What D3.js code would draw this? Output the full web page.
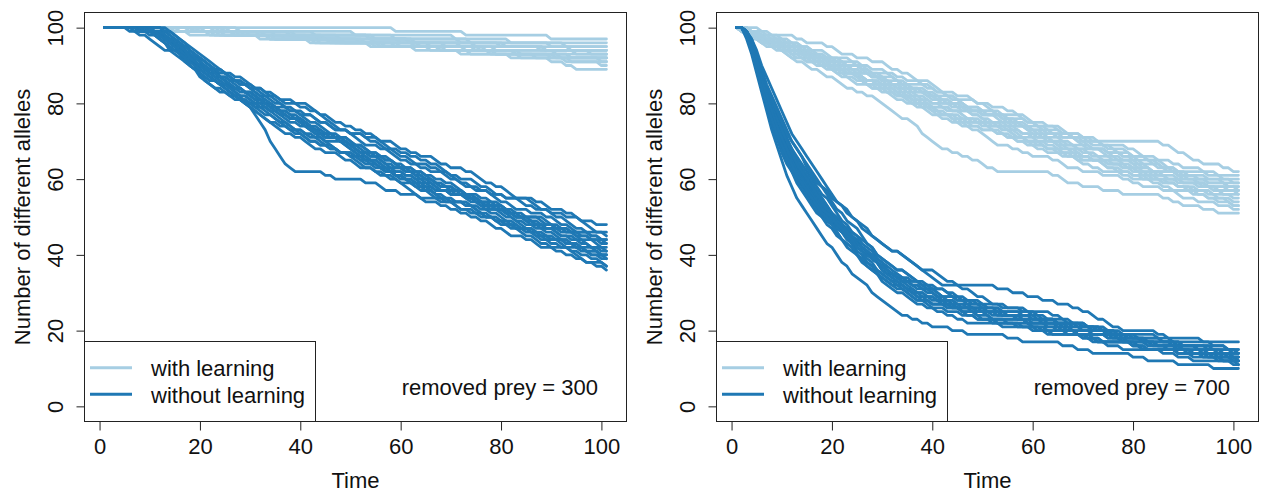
<!DOCTYPE html>
<html>
<head>
<meta charset="utf-8">
<script src="https://cdn.jsdelivr.net/npm/d3@7"></script>
<style>
  html, body { margin: 0; padding: 0; background: #fff; }
  svg text { font-family: "Liberation Sans", Arial, sans-serif; font-size: 22px; fill: #111; }
</style>
</head>
<body>
<svg id="chart" width="1270" height="494"></svg>
<script>
// Each run starts with 100 alleles at time 1. A run is written as the number of
// alleles lost at each of the 100 time steps (t=1->2 ... t=100->101), in groups of 5.
const startAlleles = 100;
const firstTime = 1;
const xTicks = [0, 20, 40, 60, 80, 100];
const yTicks = [0, 20, 40, 60, 80, 100];
const legendLabels = ["with learning", "without learning"];
const preyLabels = ["removed prey = 300", "removed prey = 700"];

// removed prey = 300, with learning
const lossWith300 = [
  "00000 00000 00000 00000 00000 00000 00000 00000 00000 00000 00000 00100 00000 00000 01000 00000 00000 00010 00000 00000",
  "00000 00000 00000 00000 00010 00000 00000 00000 01000 00000 00000 00000 00000 00001 00000 00000 10000 00000 00000 00000",
  "00000 00000 00000 00100 00000 00000 10000 00000 00000 00000 00010 00000 00000 00000 00100 00000 00000 00000 01000 00000",
  "00000 00000 00000 00000 00000 01000 00000 00000 00000 00001 00000 00100 00000 00000 10000 00000 00000 00010 00000 00000",
  "00000 00000 00010 00000 00000 10000 00000 00000 00100 00000 00000 00000 01000 00000 00000 00001 00000 00000 00100 00000",
  "00000 00000 00000 00000 01000 00000 00010 00000 00000 00000 00100 00000 10000 00000 00000 00010 00000 01000 00000 00000",
  "00000 00000 00000 00001 00000 00000 00000 00100 00000 01000 00000 00010 00000 00000 10000 00000 00000 00100 00000 01000",
  "00000 00000 10000 00000 00100 00000 00000 00010 00000 00000 01000 00000 00000 00100 00000 10000 00000 00001 00000 00000",
  "00000 00000 00000 00000 00001 00100 00000 00000 10000 00000 00010 00000 01000 00000 00000 00100 00000 00000 00010 00000",
  "00000 00000 00000 01000 00000 00010 00000 10000 00000 00100 00000 00000 00001 00000 01000 00000 00100 00000 10000 00000",
  "00000 00000 00100 00000 10000 00000 00010 00000 00000 01000 00000 00100 00000 00000 00001 00000 01000 00000 00100 00000",
  "00000 00000 00000 00010 00000 01000 00000 00100 00000 10000 00000 00010 00000 01000 00000 00100 00000 00001 00000 00000",
  "00000 00000 00000 00000 00100 00000 01000 00000 00010 00000 10000 00000 00100 00000 00010 00000 01000 00000 00100 00010",
  "00000 00000 00001 01000 00000 00000 00100 00000 10000 00000 00010 00000 00000 01000 00000 00100 00000 10000 00100 00000",
  "00000 00000 00000 00100 00000 10000 00010 00000 01000 00000 00100 00000 00001 00000 10000 00000 00100 00000 01000 00010",
  "00000 00000 00000 00010 01000 00000 00100 00000 00001 00000 00000 10000 00000 00100 00000 01000 00000 00010 00000 00000",
  "00000 00000 00000 00000 00010 00000 00000 01000 00000 00000 00100 00000 10000 00000 00010 00000 00000 00100 00000 00000",
  "00000 00000 01000 00000 00010 00000 10000 00000 00100 00000 00001 00000 01000 00000 00100 00000 10000 00010 01010 00000"
];

// removed prey = 300, without learning
const lossWithout300 = [
  "00001 01011 11000 01101 11211 21212 22322 21100 00010 10000 01001 10010 00110 01010 10101 01101 10010 11001 01010 10001",
  "00000 00010 11011 12111 10111 10101 11011 01101 11010 10011 01101 10110 01010 10101 11001 01011 10010 01101 10001 01010",
  "00000 01000 11111 11211 11101 01011 10111 11010 11110 00111 10101 11001 01101 10010 01011 00101 11010 01001 10100 00110",
  "00000 00000 00111 12111 11011 10101 01011 10010 10111 11010 01101 10110 11001 01011 10101 01110 11001 00101 10110 01010",
  "00000 00001 01111 12121 11111 11010 01101 01001 10110 01011 11101 10101 01110 11001 00110 10010 01101 10100 01011 11010",
  "00000 00011 11111 21111 10111 11101 11011 01101 10110 11001 01011 10101 01010 10010 00101 01001 11000 00110 10100 01010",
  "00000 00100 11111 11111 11110 10101 11011 01011 11101 01111 11011 10110 01101 11010 00111 10010 01101 10100 11001 01010",
  "00000 00000 01111 11111 11011 10110 01101 00100 11101 10101 01011 11010 10101 01110 10011 01101 00110 10010 01001 00100",
  "00000 00010 11111 21121 10101 11011 10111 11101 01011 11010 10101 01101 11001 10110 01001 01011 10100 11010 00101 10010",
  "00000 01000 00111 11121 11101 01011 10110 11010 01101 10011 11001 01110 10101 00110 11010 01001 00000 10110 01011 11100",
  "00000 00000 01011 11111 11110 10111 11011 10101 01101 10010 01001 00110 10100 11010 01011 10101 11001 11011 01110 10001",
  "00000 00001 11111 12111 11111 11011 01111 11101 10101 01011 11010 10110 01101 11001 10101 00110 10010 01010 00101 11000",
  "00000 10000 01111 11112 11011 10111 01101 11010 11110 01011 10101 11001 01010 10110 01101 11001 01011 10101 11010 00111",
  "00000 01010 11111 12112 11101 01111 11111 10101 11010 01101 10011 01011 11100 00101 10010 01101 01001 11010 10101 01011",
  "00000 00100 10111 11211 11111 11011 10101 01011 11010 00111 10010 01101 10110 11001 01011 10101 01010 10001 00110 01001",
  "00000 00010 01101 21111 10101 11011 11110 01011 10111 11010 01101 10110 01011 11001 10101 00101 11010 01101 10011 01001",
  "00000 00101 11211 11121 11011 10111 11101 01011 10101 01001 11010 01101 10110 11001 01011 10101 01110 11010 00111 10101",
  "00000 01000 11011 12111 01101 11101 10111 11011 10110 01011 11101 10101 01001 11010 01101 10011 01110 10101 01010 10010"
];

// removed prey = 700, with learning
const lossWith700 = [
  "00001 10000 01010 00101 10010 01001 10101 11011 01010 00100 10010 11101 01001 00010 10000 00000 00001 01101 10100 01010",
  "00110 10010 01001 10100 00101 11000 01010 00011 10010 01101 10100 00110 01001 10010 01100 00101 10010 01010 00100 10000",
  "01011 10010 00101 01010 10001 01101 10010 01100 00101 10010 01010 10100 00011 01010 10001 00110 01001 10100 00010 01000",
  "01001 10010 01101 10110 00101 01010 11010 00110 10001 01010 00101 10100 01001 00110 10010 01010 00011 10100 01000 00010",
  "10101 01011 00110 10100 01101 10010 01001 11010 00101 01010 10010 00110 01001 10100 00010 01001 10010 00101 01010 00100",
  "00101 11010 01011 10101 01001 10010 01101 00110 10100 01011 10010 01010 00101 10001 01100 00011 10010 00100 01010 10000",
  "01101 10010 00110 01010 10101 01011 11010 10110 01001 10100 00101 11001 01010 00110 10010 01001 10100 00010 01000 00001",
  "11011 01010 10101 00110 01011 10010 11001 01010 00101 10010 01101 10100 00011 01010 10001 00110 01000 10010 00101 01000",
  "10110 01101 11010 10011 01010 10101 01011 00110 10010 01001 00101 10100 11001 01010 00110 10010 01001 00100 10010 00010",
  "01010 00101 10110 01011 11010 10101 01101 10011 01001 10010 11010 00101 01010 00100 10010 01001 00110 10100 01001 10010",
  "11010 01001 10101 01101 10011 11010 01011 10110 00101 10010 01010 10101 01001 00110 10100 01010 00101 01000 10010 00110",
  "01111 10101 11011 01101 11010 10111 11101 12111 10101 01011 01000 00000 00101 10010 00100 01000 00001 01010 00100 10000",
  "10010 01101 00110 10100 01001 11010 00101 10011 01010 10001 00110 01011 10100 01001 00011 10010 01100 00101 00010 00100",
  "01011 11010 00101 10110 01001 10101 01101 11001 10110 01010 00101 10010 01001 10100 00110 01010 10001 00101 01010 10010",
  "00100 01010 10101 00110 10010 01001 11010 00101 01011 10010 01010 00101 10100 01001 00110 10010 01101 01010 00010 01000",
  "10101 01001 11010 00110 10010 01001 10100 01011 00101 10010 01101 11001 01010 00110 10001 01010 00101 10100 00010 00100",
  "01010 10001 00110 10101 01001 10010 01101 00101 10100 11010 00011 01010 10010 00101 10110 01001 10100 00110 01010 10001",
  "11101 01011 10010 01101 10110 01001 11010 00111 10101 01011 11001 01010 00101 10010 00100 01010 10001 00110 01000 10010"
];

// removed prey = 700, without learning
const lossWithout700 = [
  "01344 44333 32222 22122 21211 11211 11011 10101 01010 10010 00100 01000 00101 10010 00010 01001 10000 00100 00001 01000",
  "02454 54433 23222 22112 12121 21111 10111 11010 00101 10100 01000 00010 10000 00100 00001 01000 00010 00100 10000 00010",
  "01345 44433 22322 21222 11212 12111 11101 01011 10010 01001 00100 10000 00010 01010 00001 10100 01000 00010 00100 10000",
  "02455 55333 33222 21212 11121 21111 11011 10110 01001 00100 10000 00010 01000 10010 00100 00001 01000 00100 10000 00010",
  "01244 43333 32222 22121 12112 11111 10111 11001 11011 01101 10010 00101 01010 00100 10010 01000 00001 00100 01000 00010",
  "02444 54433 22232 22211 21121 11121 01111 10101 01100 00011 10000 00100 00001 01000 10010 00100 01000 00010 10000 00101",
  "03455 55444 33222 22212 21211 12111 11101 01010 00100 10000 00010 01000 00001 00100 10000 00010 01000 00100 00001 00000",
  "01345 43343 23222 22221 21112 11211 11110 01101 10010 00101 01000 00010 10000 01001 00100 10000 00010 01000 00001 00100",
  "02454 45433 22222 21221 11211 12111 11011 10101 01010 10001 00100 01010 00001 10100 00010 01000 00100 10000 00010 01000",
  "01234 33333 32222 22222 11211 12111 10111 11111 10000 00000 01001 00100 10010 01010 11011 01000 00010 10000 00100 00000",
  "01445 44433 23222 21221 12121 11112 11101 01011 10110 01001 10000 00100 00010 01000 00001 10000 01010 00100 10000 00010",
  "02455 54443 22222 22112 21121 11211 10111 10010 01001 00110 01000 10010 00100 00001 01000 00010 10000 00100 00010 01001",
  "01344 43333 22232 21222 12112 21211 11011 11010 01101 10010 00100 01001 00010 10000 01010 00100 00001 01000 00010 10000",
  "02444 45433 22222 22121 21121 12121 11110 10101 01010 00100 10000 00010 01000 00001 00100 10010 01000 00010 00000 00100",
  "01455 55433 22222 22211 11211 11121 11111 10110 01001 00100 10010 01000 00001 00100 10100 00010 01000 00001 00100 10000",
  "01345 44333 33222 22212 12211 11211 10101 01011 10010 01001 00110 10100 01010 00101 01000 00010 10000 00100 00001 01000",
  "01445 44433 33222 22112 12121 21211 11011 01010 10001 00100 01000 00010 10000 00001 01010 00100 10000 00010 01000 00001",
  "02455 44433 23222 22122 22112 11121 11011 10101 01010 10000 00100 00001 01000 00010 10010 01000 00001 00100 10000 00010"
];

const colWith = "#a6cee3";
const colWithout = "#1f78b4";

// turn a loss string into the allele count at times 1..101
function toCounts(s) {
  let v = startAlleles;
  const steps = s.replace(/\s/g, "").split("").map(Number);
  return [startAlleles, ...steps.map(k => (v -= k))];
}

const boxTop = 12.5, boxBottom = 421.5;
const panels = [
  { left: 84.5, right: 626.5, withRuns: lossWith300, withoutRuns: lossWithout300, label: preyLabels[0] },
  { left: 716.5, right: 1258.5, withRuns: lossWith700, withoutRuns: lossWithout700, label: preyLabels[1] }
];

const svg = d3.select("#chart");

panels.forEach(p => {
  // R-style axis ranges: data range extended by 4% on each side
  const x = d3.scaleLinear().domain([-3, 105]).range([p.left, p.right]);
  const y = d3.scaleLinear().domain([-4, 104]).range([boxBottom, boxTop]);
  const g = svg.append("g");

  const line = d3.line()
    .x((d, i) => x(firstTime + i))
    .y(d => y(d));

  // runs: with learning first, without learning on top
  [[p.withRuns, colWith], [p.withoutRuns, colWithout]].forEach(([runs, col]) => {
    g.append("g").selectAll("path")
      .data(runs.map(toCounts))
      .join("path")
      .attr("d", line)
      .attr("fill", "none")
      .attr("stroke", col)
      .attr("stroke-width", 2.8)
      .attr("stroke-linejoin", "round")
      .attr("stroke-linecap", "round");
  });

  // x axis
  const xa = g.append("g")
    .attr("transform", `translate(0,${boxBottom})`)
    .call(d3.axisBottom(x).tickValues(xTicks).tickSize(9).tickPadding(8));
  xa.select(".domain").remove();
  xa.selectAll("line").attr("stroke", "#222");

  // y axis, labels parallel to the axis
  const ya = g.append("g")
    .attr("transform", `translate(${p.left},0)`)
    .call(d3.axisLeft(y).tickValues(yTicks).tickSize(8));
  ya.select(".domain").remove();
  ya.selectAll("line").attr("stroke", "#222");
  ya.selectAll("text")
    .attr("x", 0).attr("dy", null)
    .attr("y", -21.5)
    .attr("transform", "rotate(-90)")
    .attr("text-anchor", "middle");

  // axis titles
  g.append("text")
    .attr("x", (p.left + p.right) / 2)
    .attr("y", 488)
    .attr("text-anchor", "middle")
    .text("Time");
  g.append("text")
    .attr("transform", `translate(${p.left - 55},${(boxTop + boxBottom) / 2}) rotate(-90)`)
    .attr("text-anchor", "middle")
    .text("Number of different alleles");

  // legend
  const lg = g.append("g").attr("transform", `translate(${p.left},0)`);
  lg.append("rect")
    .attr("x", 0).attr("y", 341.5)
    .attr("width", 231).attr("height", boxBottom - 341.5)
    .attr("fill", "#fff").attr("stroke", "#222");
  const legendRows = [[legendLabels[0], colWith, 367.7], [legendLabels[1], colWithout, 394.3]];
  legendRows.forEach(([lab, col, ly]) => {
    lg.append("line")
      .attr("x1", 5.5).attr("x2", 47.5)
      .attr("y1", ly).attr("y2", ly)
      .attr("stroke", col).attr("stroke-width", 3);
    lg.append("text")
      .attr("x", 66.5).attr("y", ly + 8.5)
      .text(lab);
  });

  g.append("text")
    .attr("x", p.right - 28.5)
    .attr("y", 395)
    .attr("text-anchor", "end")
    .text(p.label);

  // plot box
  g.append("rect")
    .attr("x", p.left).attr("y", boxTop)
    .attr("width", p.right - p.left).attr("height", boxBottom - boxTop)
    .attr("fill", "none").attr("stroke", "#222");
});
</script>
</body>
</html>
